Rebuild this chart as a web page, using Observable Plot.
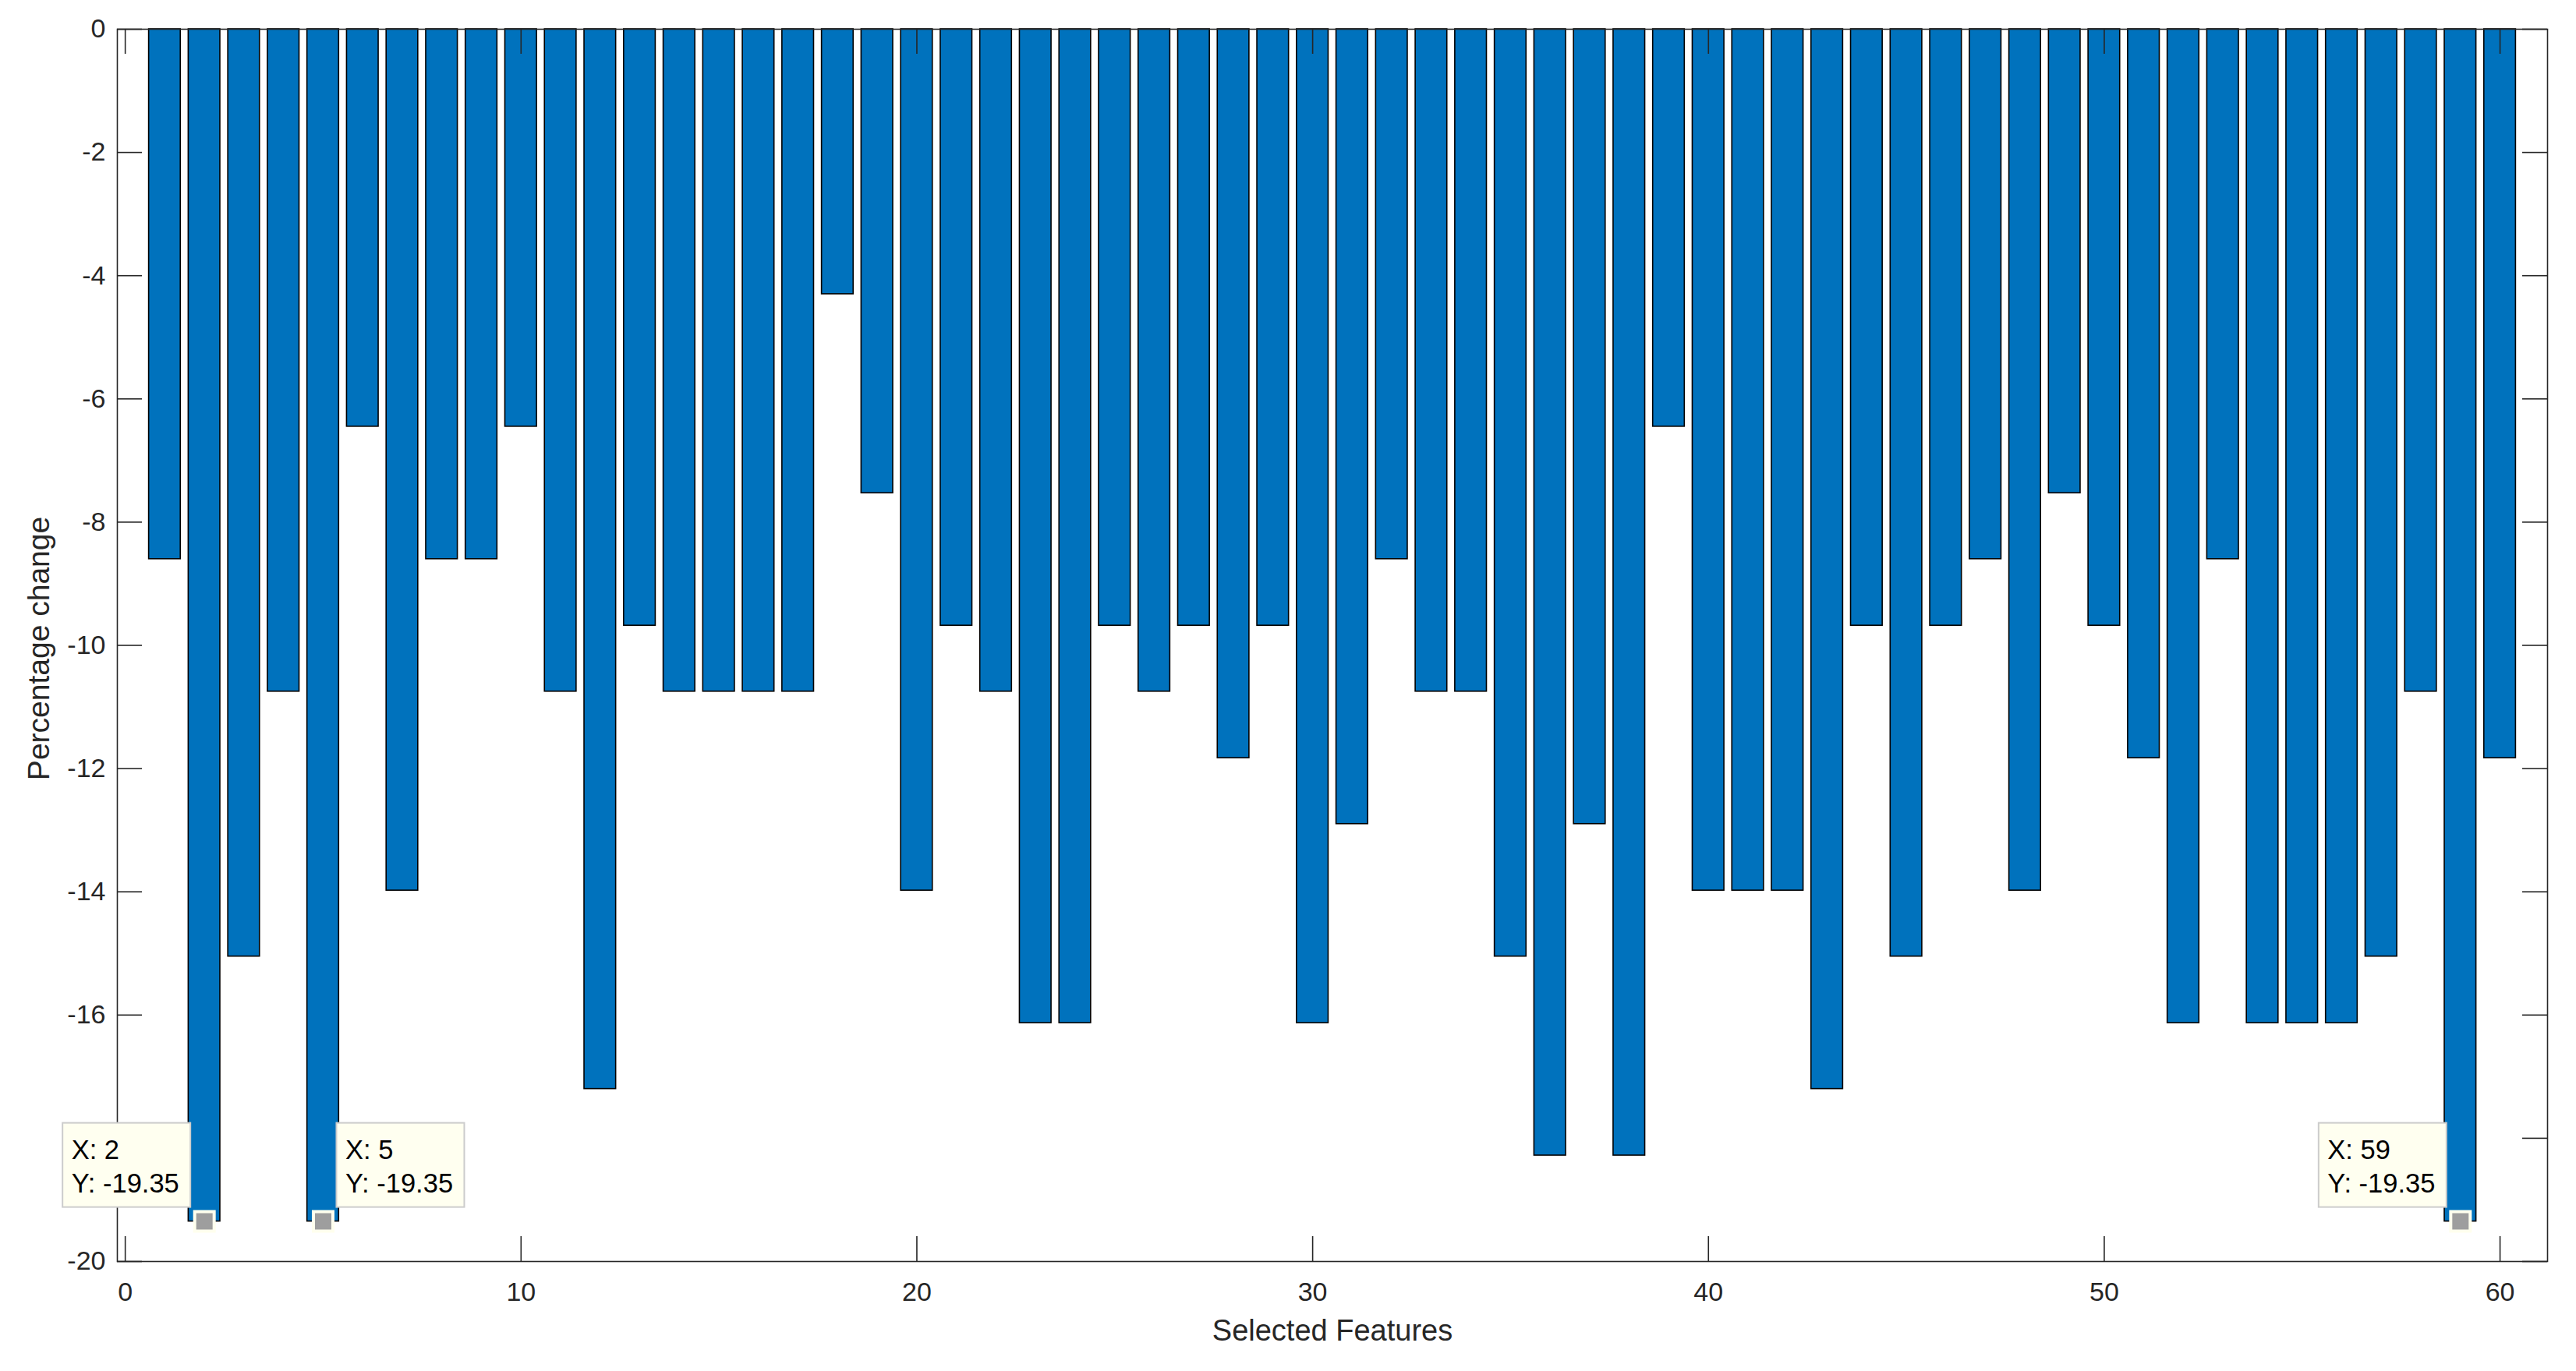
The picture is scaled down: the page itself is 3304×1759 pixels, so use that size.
<!DOCTYPE html>
<html>
<head>
<meta charset="utf-8">
<script src="https://cdn.jsdelivr.net/npm/d3@7"></script>
<script src="https://cdn.jsdelivr.net/npm/@observablehq/plot@0.6"></script>
<style>
  html, body { margin: 0; padding: 0; background: #ffffff; }
  #chart svg { display: block; }
</style>
</head>
<body>
<div id="chart"></div>
<script>
// ---- data ----
const features = [1,2,3,4,5,6,7,8,9,10,11,12,13,14,15,16,17,18,19,20,
  21,22,23,24,25,26,27,28,29,30,31,32,33,34,35,36,37,38,39,40,
  41,42,43,44,45,46,47,48,49,50,51,52,53,54,55,56,57,58,59,60];
const percentChange = [
  -8.60, -19.35, -15.05, -10.75, -19.35, -6.45, -13.98, -8.60, -8.60, -6.45,
  -10.75, -17.20, -9.68, -10.75, -10.75, -10.75, -10.75, -4.30, -7.53, -13.98,
  -9.68, -10.75, -16.13, -16.13, -9.68, -10.75, -9.68, -11.83, -9.68, -16.13,
  -12.90, -8.60, -10.75, -10.75, -15.05, -18.28, -12.90, -18.28, -6.45, -13.98,
  -13.98, -13.98, -17.20, -9.68, -15.05, -9.68, -8.60, -13.98, -7.53, -9.68,
  -11.83, -16.13, -8.60, -16.13, -16.13, -16.13, -15.05, -10.75, -19.35, -11.83
];
const xTicks = [0, 10, 20, 30, 40, 50, 60];
const yTicks = [0, -2, -4, -6, -8, -10, -12, -14, -16, -18, -20];
const xLabel = "Selected Features";
const yLabel = "Percentage change";
const tipFeatures = [2, 5, 59];
const tipSides = ["left", "right", "left"];

// ---- layout ----
const W = 3304, H = 1759;
const mL = 150, mR = 37, mT = 37, mB = 141;
const plotW = W - mL - mR, plotH = H - mT - mB;
const tickLen = 32;
const barHalf = 0.4;
const font = "'Liberation Sans', Arial, Helvetica, sans-serif";

const data = features.map((f, i) => ({feature: f, change: percentChange[i]}));
const tips = tipFeatures.map((f, k) => ({feature: f, change: percentChange[features.indexOf(f)], side: tipSides[k]}));
const tipsL = tips.filter(d => d.side === "left");
const tipsR = tips.filter(d => d.side === "right");
const tipText = d => `X: ${d.feature}\nY: ${d.change.toFixed(2)}`;

const boxW = 164, boxH = 108, gapX = 17.5, gapY = 18;

const chart = Plot.plot({
  width: W,
  height: H,
  marginLeft: mL,
  marginRight: mR,
  marginTop: mT,
  marginBottom: mB,
  style: {fontFamily: font, background: "#ffffff", color: "#262626", overflow: "visible"},
  x: {type: "linear", domain: [-0.2, 61.2]},
  y: {domain: [-20, 0]},
  marks: [
    // bars
    Plot.rect(data, {
      x1: d => d.feature - barHalf,
      x2: d => d.feature + barHalf,
      y1: 0,
      y2: "change",
      fill: "#0072BD",
      stroke: "#000000",
      strokeWidth: 1.6
    }),
    // inward ticks
    Plot.tickX(xTicks, {x: d => d, insetTop: plotH - tickLen, stroke: "#262626", strokeWidth: 1.6}),
    Plot.tickX(xTicks, {x: d => d, insetBottom: plotH - tickLen, stroke: "#262626", strokeWidth: 1.6}),
    Plot.tickY(yTicks, {y: d => d, insetRight: plotW - tickLen, stroke: "#262626", strokeWidth: 1.6}),
    Plot.tickY(yTicks, {y: d => d, insetLeft: plotW - tickLen, stroke: "#262626", strokeWidth: 1.6}),
    // axes labels
    Plot.axisX({ticks: xTicks, tickSize: 0, tickPadding: 26, fontSize: 34, label: null, tickFormat: d => String(d), fill: "#262626"}),
    Plot.axisY({ticks: yTicks, tickSize: 0, tickPadding: 15, fontSize: 34, label: null, tickFormat: d => String(d), fill: "#262626"}),
    Plot.frame({stroke: "#262626", strokeWidth: 1.6}),
    Plot.text([xLabel], {frameAnchor: "bottom", dy: 89, fontSize: 38, textAnchor: "middle", lineAnchor: "middle", fill: "#262626"}),
    Plot.text([yLabel], {frameAnchor: "left", dx: -100, dy: 4, rotate: -90, fontSize: 39, textAnchor: "middle", lineAnchor: "middle", fill: "#262626"}),
    // data tips (boxes)
    Plot.rect(tipsL, {
      x1: "feature", x2: "feature", y1: "change", y2: "change",
      insetLeft: -(gapX + boxW), insetRight: gapX, insetTop: -(gapY + boxH), insetBottom: gapY,
      fill: "#FFFFF0", stroke: "#CCCCCC", strokeWidth: 2
    }),
    Plot.rect(tipsR, {
      x1: "feature", x2: "feature", y1: "change", y2: "change",
      insetLeft: gapX, insetRight: -(gapX + boxW), insetTop: -(gapY + boxH), insetBottom: gapY,
      fill: "#FFFFF0", stroke: "#CCCCCC", strokeWidth: 2
    }),
    Plot.text(tipsL, {
      x: "feature", y: "change", text: tipText,
      textAnchor: "start", lineAnchor: "bottom", lineHeight: 1.25,
      dx: -(gapX + boxW) + 11, dy: -37, fontSize: 34.5, fill: "#000000"
    }),
    Plot.text(tipsR, {
      x: "feature", y: "change", text: tipText,
      textAnchor: "start", lineAnchor: "bottom", lineHeight: 1.25,
      dx: gapX + 11, dy: -37, fontSize: 34.5, fill: "#000000"
    }),
    // data tip markers
    Plot.dot(tips, {
      x: "feature", y: "change", symbol: "square", r: 14.1,
      fill: "#9E9E9E", stroke: "#FFFFEE", strokeWidth: 4
    })
  ]
});

document.getElementById("chart").appendChild(chart);
</script>
</body>
</html>
